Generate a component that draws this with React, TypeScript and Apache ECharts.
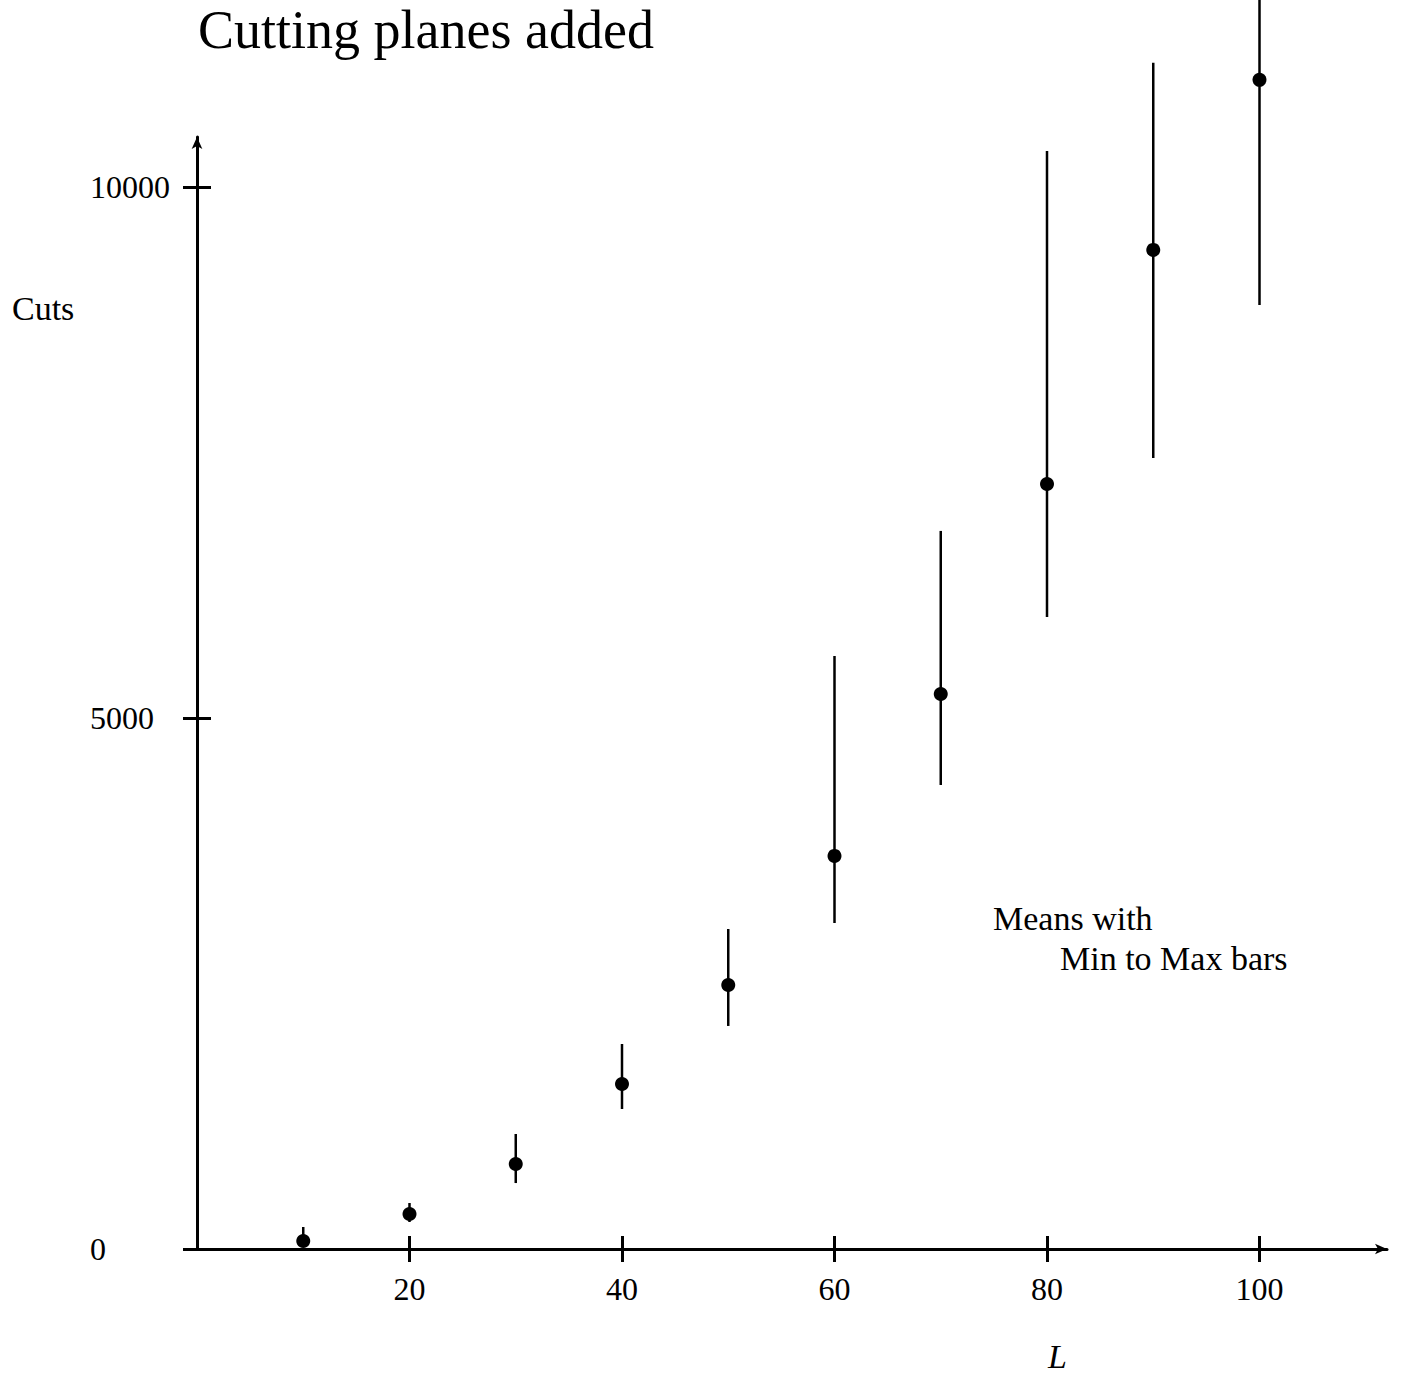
import React, { useEffect, useRef } from "react";
import * as echarts from "echarts";

const xValues = [10, 20, 30, 40, 50, 60, 70, 80, 90, 100];
const meanCuts = [75, 330, 800, 1554, 2486, 3701, 5226, 7203, 9407, 11008];
const minCuts = [30, 254, 621, 1318, 2100, 3070, 4369, 5951, 7448, 8889];
const maxCuts = [207, 433, 1083, 1930, 3013, 5584, 6761, 10339, 11168, 12400];
const xTickValues = [20, 40, 60, 80, 100];
const yTickValues = [0, 5000, 10000];

const FONT = "Liberation Serif";

export default function App() {
  const ref = useRef<HTMLDivElement>(null);
  useEffect(() => {
    if (!ref.current) return;
    const chart = echarts.init(ref.current, undefined, { renderer: "svg" });
    const errData = xValues.map((x, i) => [x, minCuts[i], maxCuts[i]]);
    const meanData = xValues.map((x, i) => [x, meanCuts[i]]);
    const axisLineStyle = { color: "#000", width: 3 };
    const plain = (v: number) => String(v);
    chart.setOption({
      animation: false,
      backgroundColor: "#fff",
      title: {
        text: "Cutting planes added",
        left: 198,
        top: 3,
        padding: 0,
        textStyle: { fontFamily: FONT, fontSize: 54, lineHeight: 54, fontWeight: "normal", color: "#000" },
      },
      grid: { left: 197, right: 16, top: 137, bottom: 126, containLabel: false },
      xAxis: [
        {
          type: "value",
          position: "bottom",
          min: 0,
          max: 112,
          interval: 20,
          axisLine: { show: true, lineStyle: axisLineStyle, symbol: ["none", "arrow"], symbolSize: [8, 12] },
          axisTick: { show: true, inside: false, length: 13, lineStyle: axisLineStyle, customValues: xTickValues },
          axisLabel: { show: true, customValues: xTickValues, formatter: plain, margin: 24, fontFamily: FONT, fontSize: 32, color: "#000" },
          splitLine: { show: false },
        },
        {
          type: "value",
          position: "bottom",
          min: 0,
          max: 112,
          interval: 20,
          axisLine: { show: false },
          axisTick: { show: true, inside: true, length: 13, lineStyle: axisLineStyle, customValues: xTickValues },
          axisLabel: { show: false },
          splitLine: { show: false },
        },
      ],
      yAxis: [
        {
          type: "value",
          position: "left",
          min: 0,
          max: 10470,
          interval: 5000,
          axisLine: { show: true, lineStyle: axisLineStyle, symbol: ["none", "arrow"], symbolSize: [8, 12] },
          axisTick: { show: true, inside: false, length: 14, lineStyle: axisLineStyle, customValues: yTickValues },
          axisLabel: { show: true, customValues: yTickValues, formatter: plain, align: "left", margin: 107, fontFamily: FONT, fontSize: 32, color: "#000" },
          splitLine: { show: false },
        },
        {
          type: "value",
          position: "left",
          min: 0,
          max: 10470,
          interval: 5000,
          axisLine: { show: false },
          axisTick: { show: true, inside: true, length: 14, lineStyle: axisLineStyle, customValues: [5000, 10000] },
          axisLabel: { show: false },
          splitLine: { show: false },
        },
      ],
      series: [
        {
          type: "custom",
          clip: false,
          data: errData,
          encode: { x: 0, y: [1, 2] },
          renderItem: (params: any, api: any) => {
            const x = api.value(0);
            const p1 = api.coord([x, api.value(1)]);
            const p2 = api.coord([x, api.value(2)]);
            return {
              type: "line",
              shape: { x1: p1[0], y1: p1[1], x2: p2[0], y2: p2[1] },
              style: { stroke: "#000", lineWidth: 2.5 },
            };
          },
          z: 2,
        },
        {
          type: "scatter",
          clip: false,
          data: meanData,
          symbol: "circle",
          symbolSize: 14,
          itemStyle: { color: "#000", opacity: 1 },
          z: 3,
        },
      ],
      graphic: [
        {
          type: "text",
          x: 12,
          y: 308,
          style: { text: "Cuts", fontFamily: FONT, fontSize: 34, fill: "#000", verticalAlign: "middle" },
        },
        {
          type: "text",
          x: 1048,
          y: 1356,
          style: { text: "L", fontFamily: FONT, fontSize: 34, fontStyle: "italic", fill: "#000", verticalAlign: "middle" },
        },
        {
          type: "text",
          x: 993,
          y: 918,
          style: { text: "Means with", fontFamily: FONT, fontSize: 34, fill: "#000", verticalAlign: "middle" },
        },
        {
          type: "text",
          x: 1060,
          y: 958,
          style: { text: "Min to Max bars", fontFamily: FONT, fontSize: 34, fill: "#000", verticalAlign: "middle" },
        },
      ],
    });
    return () => chart.dispose();
  }, []);
  return (
    <div
      ref={ref}
      style={{ position: "absolute", left: 0, top: 0, width: 1403, height: 1375, background: "#fff" }}
    />
  );
}
